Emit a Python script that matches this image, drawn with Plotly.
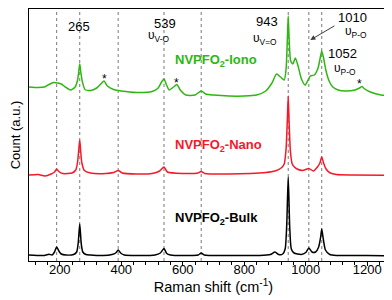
import plotly.graph_objects as go

# Raman shift (cm^-1) and intensity (arbitrary units, offset stacked)
bulk_x = [100, 150, 165, 175, 183, 190, 197, 205, 220, 245, 255, 260, 265, 270, 275, 285, 300, 340, 370, 382, 390, 398, 410, 450, 510, 527, 539, 548, 560, 620, 650, 660, 670, 760, 850, 885, 900, 912, 925, 933, 938, 943, 948, 953, 962, 985, 1000, 1010, 1020, 1032, 1042, 1048, 1052, 1057, 1064, 1078, 1100, 1200, 1300]
bulk_y = [6, 5.5, 6.8, 6, 9, 14, 10, 7, 6, 6.5, 9, 18, 37, 17, 9, 6.5, 6, 5.5, 6.5, 8, 11, 8, 6, 5.5, 6, 8, 12.5, 7.5, 6, 5.5, 6, 8, 6, 5.5, 5.5, 6.5, 9, 6.5, 7, 12, 35, 84, 33, 12, 8, 6.5, 8.5, 13, 9, 9, 14, 23, 32, 22, 11, 6.5, 5.5, 5.5, 5]

nano_x = [100, 130, 152, 172, 183, 190, 197, 210, 240, 252, 258, 262, 265, 268, 272, 280, 300, 350, 375, 390, 403, 450, 500, 525, 539, 550, 600, 650, 660, 672, 750, 820, 870, 900, 920, 930, 936, 940, 943, 946, 950, 956, 963, 972, 990, 1010, 1025, 1038, 1046, 1052, 1058, 1066, 1080, 1100, 1150, 1300]
nano_y = [86, 86.5, 85, 87, 89, 92, 89.5, 87.5, 88, 91, 99, 112, 121, 110, 98, 90.5, 88, 87.5, 88.5, 90.5, 88, 87, 87.5, 90, 94, 89, 87.5, 88, 89.5, 87.5, 87, 87.5, 88.5, 90, 93, 97, 112, 140, 165, 138, 110, 97, 94, 92, 90.5, 92.5, 90, 94, 98, 104, 98, 92, 88, 86.5, 86, 85.5]

iono_x = [100, 130, 150, 165, 180, 193, 205, 218, 235, 250, 258, 262, 265, 268, 273, 282, 300, 320, 335, 344, 355, 375, 400, 450, 500, 520, 531, 539, 546, 556, 570, 581, 592, 610, 640, 660, 675, 700, 750, 800, 840, 870, 890, 905, 918, 930, 936, 940, 943, 946, 951, 958, 966, 975, 986, 998, 1006, 1015, 1028, 1040, 1047, 1052, 1058, 1066, 1076, 1088, 1105, 1130, 1160, 1175, 1183, 1192, 1210, 1245, 1300]
iono_y = [174, 173.5, 174, 176.5, 178.5, 178, 177, 174, 171, 174, 181, 190, 197, 190, 180, 171.5, 170.5, 173, 177.5, 180, 175, 171.5, 170, 168.5, 169.5, 173, 179, 182, 177, 171, 174, 176.5, 171, 166, 166, 170, 167, 166, 165, 165, 166, 170, 178, 187, 184, 181, 192, 220, 245, 222, 200, 197, 203, 195, 182, 176, 180, 185, 186, 193, 203, 210, 203, 190, 180, 174, 171, 170, 171, 173, 174.5, 172, 169, 166, 165]

peak_lines = [190, 265, 390, 539, 660, 943, 1010, 1052]
x_ticks = [200, 400, 600, 800, 1000, 1200]

GREEN = "rgb(44,184,16)"
RED = "rgb(245,25,40)"
BLACK = "black"

fig = go.Figure()
for xs, ys, col in [(bulk_x, bulk_y, BLACK), (nano_x, nano_y, RED), (iono_x, iono_y, GREEN)]:
    fig.add_trace(go.Scatter(x=xs, y=ys, mode="lines", line=dict(color=col, width=1.5, shape="spline", smoothing=0.6),
                             hoverinfo="skip", showlegend=False))

for v in peak_lines:
    fig.add_shape(type="line", x0=v, x1=v, y0=0, y1=1, xref="x", yref="paper",
                  line=dict(color="rgb(120,120,120)", width=1, dash="dot"), layer="below")

FONT = "Liberation Sans, Arial, sans-serif"
ann = []
def txt(x, y, t, size=13, color="black", xanchor="center", bold=False):
    ann.append(dict(x=x, y=y, xref="x", yref="y", text=("<b>%s</b>" % t) if bold else t, showarrow=False,
                    xanchor=xanchor, yanchor="middle", font=dict(family=FONT, size=size, color=color)))

txt(262, 235, "265")
txt(541, 238, "539")
txt(520, 225, "υ<sub>V-O</sub>", size=12)
txt(875, 240, "943")
txt(866, 222, "υ<sub>V=O</sub>", size=12)
txt(1151, 244, "1010")
txt(1164, 229, "υ<sub>P-O</sub>", size=12)
txt(1119, 208, "1052")
txt(1129, 192, "υ<sub>P-O</sub>", size=12)
txt(346, 182, "*", size=12)
txt(580, 178, "*", size=12)
txt(1174, 177, "*", size=12)
txt(568, 201, "NVPFO<sub>2</sub>-Iono", color=GREEN, xanchor="left", bold=True)
txt(568, 116, "NVPFO<sub>2</sub>-Nano", color=RED, xanchor="left", bold=True)
txt(568, 43, "NVPFO<sub>2</sub>-Bulk", color=BLACK, xanchor="left", bold=True)

ann.append(dict(x=1015, y=221, ax=1098, ay=236, xref="x", yref="y", axref="x", ayref="y", text="",
                showarrow=True, arrowhead=2, arrowsize=1, arrowwidth=1, arrowcolor="rgb(60,60,60)"))

ann.append(dict(x=-0.037, y=0.5, xref="paper", yref="paper", text="Count (a.u.)", textangle=-90, showarrow=False,
                xanchor="center", yanchor="middle", font=dict(family=FONT, size=13, color="black")))

fig.update_layout(
    width=392, height=300,
    margin=dict(l=21, r=2, t=1, b=47),
    paper_bgcolor="white", plot_bgcolor="white",
    annotations=ann,
    font=dict(family=FONT, size=13, color="black"),
    xaxis=dict(range=[100, 1300], tickvals=x_ticks, ticks="outside", ticklen=4, tickwidth=1, tickcolor="black",
               ticklabelstandoff=-8,
               minor=dict(dtick=40, tick0=0, ticks="outside", ticklen=2.5, tickcolor="black"),
               showline=True, linecolor="black", linewidth=1, mirror=True, showgrid=False, zeroline=False,
               tickfont=dict(family=FONT, size=13),
               title=dict(text="Raman shift (cm<sup>-1</sup>)", font=dict(family=FONT, size=14.5), standoff=5)),
    yaxis=dict(range=[0, 252], showticklabels=False, ticks="", showline=True, linecolor="black", linewidth=1,
               mirror=True, showgrid=False, zeroline=False),
)

fig.write_html("out.html")
